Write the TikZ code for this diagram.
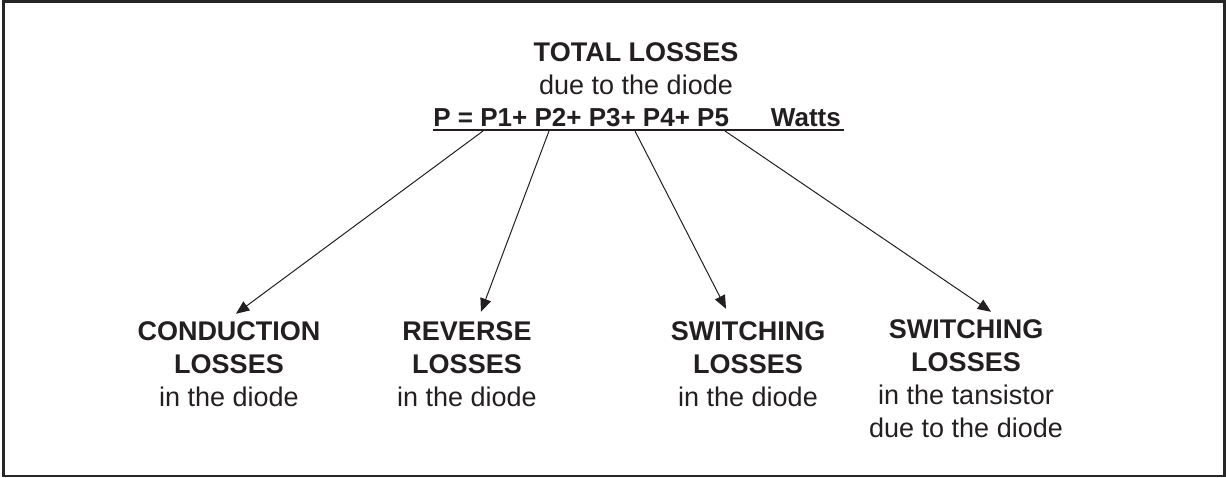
\documentclass[tikz,border=0pt]{standalone}
\usepackage{fontspec}
\setmainfont{Liberation Sans}
\usepackage{xcolor}
\definecolor{ink}{HTML}{231F20}
\usetikzlibrary{positioning, calc, arrows}
\tikzset{>=triangle 45}

\begin{document}
\begin{tikzpicture}
    [x=0.5pt, y=-0.5pt, color=ink,
     txt/.style={align=center, inner sep=0pt, font=\fontsize{13.5}{16.5}\selectfont},
     loss/.style={txt, anchor=base},
     lead/.style={->, line width=0.5pt}]

    \useasboundingbox (0,0) rectangle (1226,477);
    \draw[line width=1.25pt, black!85] (3.5,1.5) rectangle (1224.3,475.8);

    % total losses
    \node[loss] (total) at (636,94) {\textbf{TOTAL LOSSES}\\due to the diode};
    \node[txt, anchor=base west, font=\fontsize{13}{16.5}\selectfont] (sum) at (433,126)
      {\textbf{P = P1+ P2+ P3+ P4+ P5\hspace{21pt}Watts}};
    \draw[line width=1pt] ([yshift=-2pt]sum.base west) -- ([yshift=-2pt, xshift=1.5pt]sum.base east);

    \coordinate (p1) at (483,131);
    \coordinate (p2) at (549,131);
    \coordinate (p3) at (635,131);
    \coordinate (p4) at (725,131);

    % the single losses (base = last line)
    \node[loss] (cond) at (229,406) {\textbf{CONDUCTION}\\\textbf{LOSSES}\\in the diode};
    \node[loss] (rev) at (467,406) {\textbf{REVERSE}\\\textbf{LOSSES}\\in the diode};
    \node[loss] (swd) at (748,406) {\textbf{SWITCHING}\\\textbf{LOSSES}\\in the diode};
    \node[loss] (swt) at (966,437) {\textbf{SWITCHING}\\\textbf{LOSSES}\\in the tansistor\\due to the diode};

    \draw[lead] (p1) to ([xshift=3.5pt, yshift=3.5pt]cond.north);
    \draw[lead] (p2) to ([xshift=7pt, yshift=4.5pt]rev.north);
    \draw[lead] (p3) to ([xshift=-11pt, yshift=6pt]swd.north);
    \draw[lead] (p4) to ([xshift=12.5pt, yshift=3.5pt]swt.north);
  \end{tikzpicture}
\end{document}
